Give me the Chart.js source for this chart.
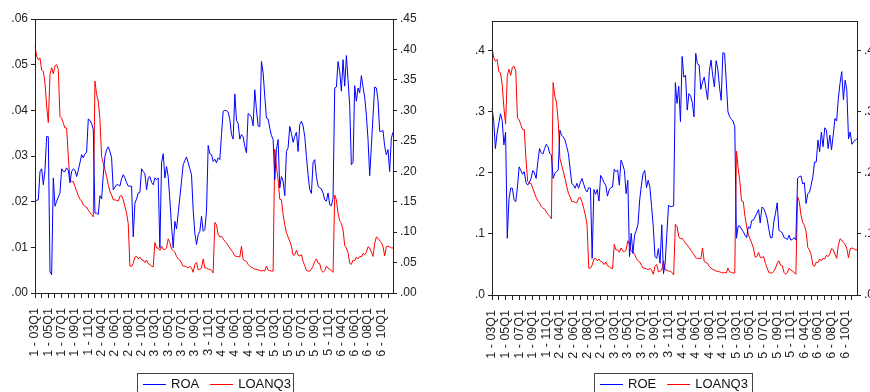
<!DOCTYPE html>
<html>
<head>
<meta charset="utf-8">
<script src="https://cdn.jsdelivr.net/npm/chart.js@4/dist/chart.umd.min.js"></script>
<style>
  html, body { margin: 0; padding: 0; overflow: hidden; background: #fff; width: 870px; height: 392px; }
  #roaChart { position: absolute; left: 0; top: 0; }
  #roeChart { position: absolute; left: 440px; top: 0; }
</style>
</head>
<body>
<canvas id="roaChart" width="440" height="392"></canvas>
<canvas id="roeChart" width="460" height="392"></canvas>
<script>
// panel: bank 1..6, quarters 2003Q1 - 2011Q4
const banks = ['1', '2', '3', '4', '5', '6'];
const years = ['03', '04', '05', '06', '07', '08', '09', '10', '11'];
const quarters = ['Q1', 'Q2', 'Q3', 'Q4'];

const roa = [
  0.0201, 0.0203, 0.0204, 0.0266, 0.0272, 0.0237, 0.0270, 0.0343, 0.0342, 0.0047, 0.0040, 0.0252, 0.0190, 0.0201, 0.0210, 0.0219, 0.0272, 0.0266, 0.0266, 0.0274, 0.0269, 0.0241, 0.0266, 0.0272, 0.0269, 0.0255, 0.0269, 0.0285, 0.0303, 0.0296, 0.0305, 0.0308, 0.0381, 0.0378, 0.0371, 0.0358,
  0.0175, 0.0175, 0.0172, 0.0213, 0.0206, 0.0259, 0.0299, 0.0314, 0.0320, 0.0310, 0.0296, 0.0226, 0.0232, 0.0237, 0.0237, 0.0234, 0.0250, 0.0259, 0.0252, 0.0242, 0.0234, 0.0234, 0.0234, 0.0123, 0.0197, 0.0206, 0.0219, 0.0220, 0.0272, 0.0266, 0.0261, 0.0226, 0.0252, 0.0255, 0.0242, 0.0237,
  0.0252, 0.0248, 0.0252, 0.0099, 0.0285, 0.0305, 0.0252, 0.0277, 0.0255, 0.0204, 0.0146, 0.0099, 0.0157, 0.0140, 0.0175, 0.0210, 0.0245, 0.0281, 0.0290, 0.0298, 0.0285, 0.0272, 0.0259, 0.0182, 0.0131, 0.0106, 0.0128, 0.0135, 0.0168, 0.0135, 0.0139, 0.0179, 0.0323, 0.0305, 0.0303, 0.0288,
  0.0293, 0.0285, 0.0296, 0.0292, 0.0347, 0.0398, 0.0400, 0.0399, 0.0396, 0.0380, 0.0347, 0.0337, 0.0436, 0.0378, 0.0371, 0.0337, 0.0347, 0.0342, 0.0321, 0.0307, 0.0393, 0.0390, 0.0385, 0.0366, 0.0445, 0.0401, 0.0366, 0.0364, 0.0507, 0.0482, 0.0431, 0.0383, 0.0381, 0.0361, 0.0345, 0.0336,
  0.0248, 0.0314, 0.0336, 0.0230, 0.0255, 0.0245, 0.0213, 0.0310, 0.0318, 0.0365, 0.0349, 0.0330, 0.0343, 0.0352, 0.0310, 0.0369, 0.0376, 0.0366, 0.0343, 0.0299, 0.0259, 0.0226, 0.0218, 0.0286, 0.0292, 0.0255, 0.0234, 0.0230, 0.0228, 0.0219, 0.0204, 0.0201, 0.0219, 0.0193, 0.0191, 0.0208,
  0.0449, 0.0451, 0.0507, 0.0485, 0.0442, 0.0511, 0.0453, 0.0520, 0.0467, 0.0410, 0.0281, 0.0286, 0.0454, 0.0420, 0.0449, 0.0438, 0.0476, 0.0451, 0.0429, 0.0390, 0.0336, 0.0257, 0.0321, 0.0388, 0.0451, 0.0449, 0.0423, 0.0354, 0.0354, 0.0356, 0.0321, 0.0303, 0.0314, 0.0266, 0.0339, 0.0352
];

const loanq3 = [
  0.405, 0.389, 0.383, 0.386, 0.366, 0.364, 0.345, 0.307, 0.280, 0.359, 0.370, 0.360, 0.373, 0.375, 0.367, 0.290, 0.287, 0.279, 0.271, 0.271, 0.224, 0.186, 0.183, 0.183, 0.175, 0.167, 0.160, 0.154, 0.151, 0.145, 0.142, 0.141, 0.136, 0.132, 0.129, 0.125,
  0.348, 0.326, 0.315, 0.285, 0.224, 0.213, 0.203, 0.191, 0.178, 0.167, 0.161, 0.153, 0.153, 0.152, 0.151, 0.159, 0.160, 0.153, 0.142, 0.131, 0.114, 0.044, 0.044, 0.049, 0.059, 0.060, 0.056, 0.059, 0.055, 0.054, 0.050, 0.054, 0.048, 0.047, 0.044, 0.043,
  0.083, 0.074, 0.074, 0.070, 0.077, 0.072, 0.071, 0.074, 0.089, 0.083, 0.072, 0.070, 0.067, 0.060, 0.056, 0.054, 0.049, 0.044, 0.044, 0.043, 0.041, 0.044, 0.041, 0.034, 0.047, 0.050, 0.038, 0.039, 0.041, 0.056, 0.041, 0.041, 0.039, 0.039, 0.037, 0.033,
  0.116, 0.112, 0.096, 0.092, 0.093, 0.089, 0.085, 0.082, 0.078, 0.074, 0.070, 0.066, 0.061, 0.060, 0.060, 0.059, 0.077, 0.055, 0.053, 0.052, 0.047, 0.044, 0.042, 0.041, 0.039, 0.039, 0.038, 0.037, 0.036, 0.037, 0.036, 0.044, 0.038, 0.037, 0.036, 0.036,
  0.236, 0.208, 0.186, 0.154, 0.153, 0.129, 0.112, 0.099, 0.092, 0.085, 0.077, 0.062, 0.063, 0.070, 0.062, 0.061, 0.063, 0.052, 0.045, 0.037, 0.036, 0.036, 0.039, 0.044, 0.052, 0.056, 0.049, 0.048, 0.037, 0.034, 0.037, 0.044, 0.041, 0.039, 0.037, 0.034,
  0.161, 0.153, 0.131, 0.119, 0.114, 0.104, 0.078, 0.074, 0.066, 0.049, 0.047, 0.054, 0.053, 0.059, 0.056, 0.060, 0.059, 0.065, 0.063, 0.067, 0.076, 0.074, 0.067, 0.060, 0.081, 0.092, 0.090, 0.086, 0.083, 0.076, 0.061, 0.076, 0.077, 0.076, 0.074, 0.074
];

const roe = [
  0.306, 0.286, 0.240, 0.265, 0.281, 0.297, 0.286, 0.246, 0.267, 0.093, 0.157, 0.175, 0.175, 0.156, 0.153, 0.177, 0.210, 0.204, 0.198, 0.202, 0.184, 0.180, 0.184, 0.191, 0.204, 0.200, 0.191, 0.218, 0.240, 0.233, 0.231, 0.240, 0.247, 0.243, 0.232, 0.229,
  0.191, 0.199, 0.202, 0.205, 0.270, 0.262, 0.259, 0.254, 0.243, 0.232, 0.207, 0.183, 0.180, 0.175, 0.183, 0.175, 0.184, 0.191, 0.182, 0.173, 0.169, 0.176, 0.175, 0.060, 0.173, 0.165, 0.173, 0.154, 0.196, 0.191, 0.184, 0.180, 0.162, 0.172, 0.176, 0.177,
  0.206, 0.202, 0.205, 0.180, 0.221, 0.214, 0.204, 0.166, 0.188, 0.063, 0.101, 0.068, 0.098, 0.106, 0.116, 0.156, 0.180, 0.199, 0.204, 0.176, 0.188, 0.177, 0.145, 0.112, 0.063, 0.060, 0.076, 0.052, 0.115, 0.035, 0.052, 0.101, 0.147, 0.145, 0.145, 0.146,
  0.348, 0.314, 0.342, 0.284, 0.391, 0.357, 0.360, 0.303, 0.330, 0.326, 0.315, 0.292, 0.396, 0.379, 0.377, 0.337, 0.349, 0.357, 0.338, 0.320, 0.366, 0.385, 0.360, 0.341, 0.384, 0.371, 0.341, 0.319, 0.397, 0.396, 0.349, 0.300, 0.292, 0.288, 0.285, 0.276,
  0.093, 0.113, 0.113, 0.108, 0.104, 0.098, 0.094, 0.112, 0.109, 0.122, 0.123, 0.128, 0.134, 0.140, 0.118, 0.144, 0.142, 0.135, 0.126, 0.109, 0.094, 0.094, 0.120, 0.134, 0.151, 0.106, 0.104, 0.102, 0.094, 0.093, 0.091, 0.098, 0.090, 0.091, 0.094, 0.090,
  0.191, 0.194, 0.195, 0.182, 0.184, 0.150, 0.166, 0.168, 0.180, 0.194, 0.218, 0.218, 0.254, 0.235, 0.267, 0.243, 0.274, 0.270, 0.240, 0.262, 0.238, 0.262, 0.289, 0.285, 0.322, 0.347, 0.366, 0.320, 0.352, 0.336, 0.256, 0.267, 0.247, 0.251, 0.254, 0.256
];

const roaTicks = [0, 0.01, 0.02, 0.03, 0.04, 0.05, 0.06];
const loanTicksLeft = [0, 0.05, 0.10, 0.15, 0.20, 0.25, 0.30, 0.35, 0.40, 0.45];
const roeTicks = [0, 0.1, 0.2, 0.3, 0.4];
const loanTicksRight = [0, 0.1, 0.2, 0.3, 0.4];

const labels = [];
banks.forEach(b => years.forEach(y => quarters.forEach(q => labels.push(b + ' - ' + y + q))));

const FONT = '"Liberation Sans", Arial, sans-serif';
const INK = '#222';

// plot box
const framePlugin = {
  id: 'frame',
  afterDraw(chart) {
    const { ctx, chartArea: a } = chart;
    ctx.save();
    ctx.strokeStyle = INK;
    ctx.lineWidth = 1;
    ctx.strokeRect(Math.round(a.left) + 0.5, Math.round(a.top) + 0.5, Math.round(a.right - a.left), Math.round(a.bottom - a.top));
    ctx.restore();
  }
};

// boxed legend under the axis
const boxLegend = {
  id: 'boxLegend',
  afterDraw(chart, args, opts) {
    const ctx = chart.ctx;
    ctx.save();
    ctx.strokeStyle = '#444';
    ctx.lineWidth = 1;
    ctx.strokeRect(opts.x + 0.5, opts.y + 0.5, opts.w, 40);
    ctx.font = '13px ' + FONT;
    ctx.textBaseline = 'middle';
    let x = opts.x + 6;
    const y = opts.y + 11;
    chart.data.datasets.forEach(ds => {
      ctx.strokeStyle = ds.borderColor;
      ctx.beginPath();
      ctx.moveTo(x, y + 0.5);
      ctx.lineTo(x + 23, y + 0.5);
      ctx.stroke();
      x += 28;
      ctx.fillStyle = '#111';
      ctx.fillText(ds.label, x, y);
      x += ctx.measureText(ds.label).width + 11;
    });
    ctx.restore();
  }
};

function fmt(digits) {
  return v => v.toFixed(digits).replace(/^0/, '');
}

function yAxis(position, min, max, tickList, digits, width) {
  return {
    type: 'linear',
    position,
    min,
    max,
    afterBuildTicks: axis => { axis.ticks = tickList.map(v => ({ value: v })); },
    afterFit: s => { s.width = width; },
    grid: { drawOnChartArea: false, tickLength: 4, tickColor: INK },
    border: { color: INK, width: 1 },
    ticks: { color: INK, padding: 3, font: { family: FONT, size: 12 }, callback: fmt(digits) }
  };
}

function makeChart(id, name, series, leftAxis, rightAxis, top, xHeight, legend) {
  return new Chart(document.getElementById(id), {
    type: 'line',
    data: {
      labels,
      datasets: [
        { label: name, data: series, yAxisID: 'y', borderColor: '#0000ff', borderWidth: 1, pointRadius: 0, tension: 0 },
        { label: 'LOANQ3', data: loanq3, yAxisID: 'y1', borderColor: '#ff0000', borderWidth: 1, pointRadius: 0, tension: 0 }
      ]
    },
    options: {
      responsive: false,
      animation: false,
      layout: { padding: { top, left: 0, right: 0, bottom: 0 } },
      plugins: {
        legend: { display: false },
        tooltip: { enabled: false },
        boxLegend: legend
      },
      scales: {
        x: {
          type: 'category',
          offset: false,
          afterFit: s => { s.height = xHeight; },
          grid: {
            drawOnChartArea: false,
            tickLength: 5,
            tickColor: c => (c.index % 4 === 0 ? INK : 'rgba(0,0,0,0)')
          },
          border: { color: INK, width: 1 },
          ticks: {
            autoSkip: false,
            maxRotation: 90,
            minRotation: 90,
            padding: 10,
            color: INK,
            font: { family: FONT, size: 12.5 },
            callback: function (v, i) { return i % 8 === 0 ? this.getLabelForValue(v) : ''; }
          }
        },
        y: leftAxis,
        y1: rightAxis
      }
    },
    plugins: [framePlugin, boxLegend]
  });
}

makeChart('roaChart', 'ROA', roa,
  yAxis('left', 0, 0.06, roaTicks, 2, 35),
  yAxis('right', 0, 0.45, loanTicksLeft, 2, 47),
  19, 99, { x: 137, y: 373, w: 156 });

makeChart('roeChart', 'ROE', roe,
  yAxis('left', 0, 0.449, roeTicks, 1, 52),
  yAxis('right', 0, 0.449, loanTicksRight, 1, 43),
  21, 97, { x: 154, y: 373, w: 158 });
</script>
</body>
</html>
